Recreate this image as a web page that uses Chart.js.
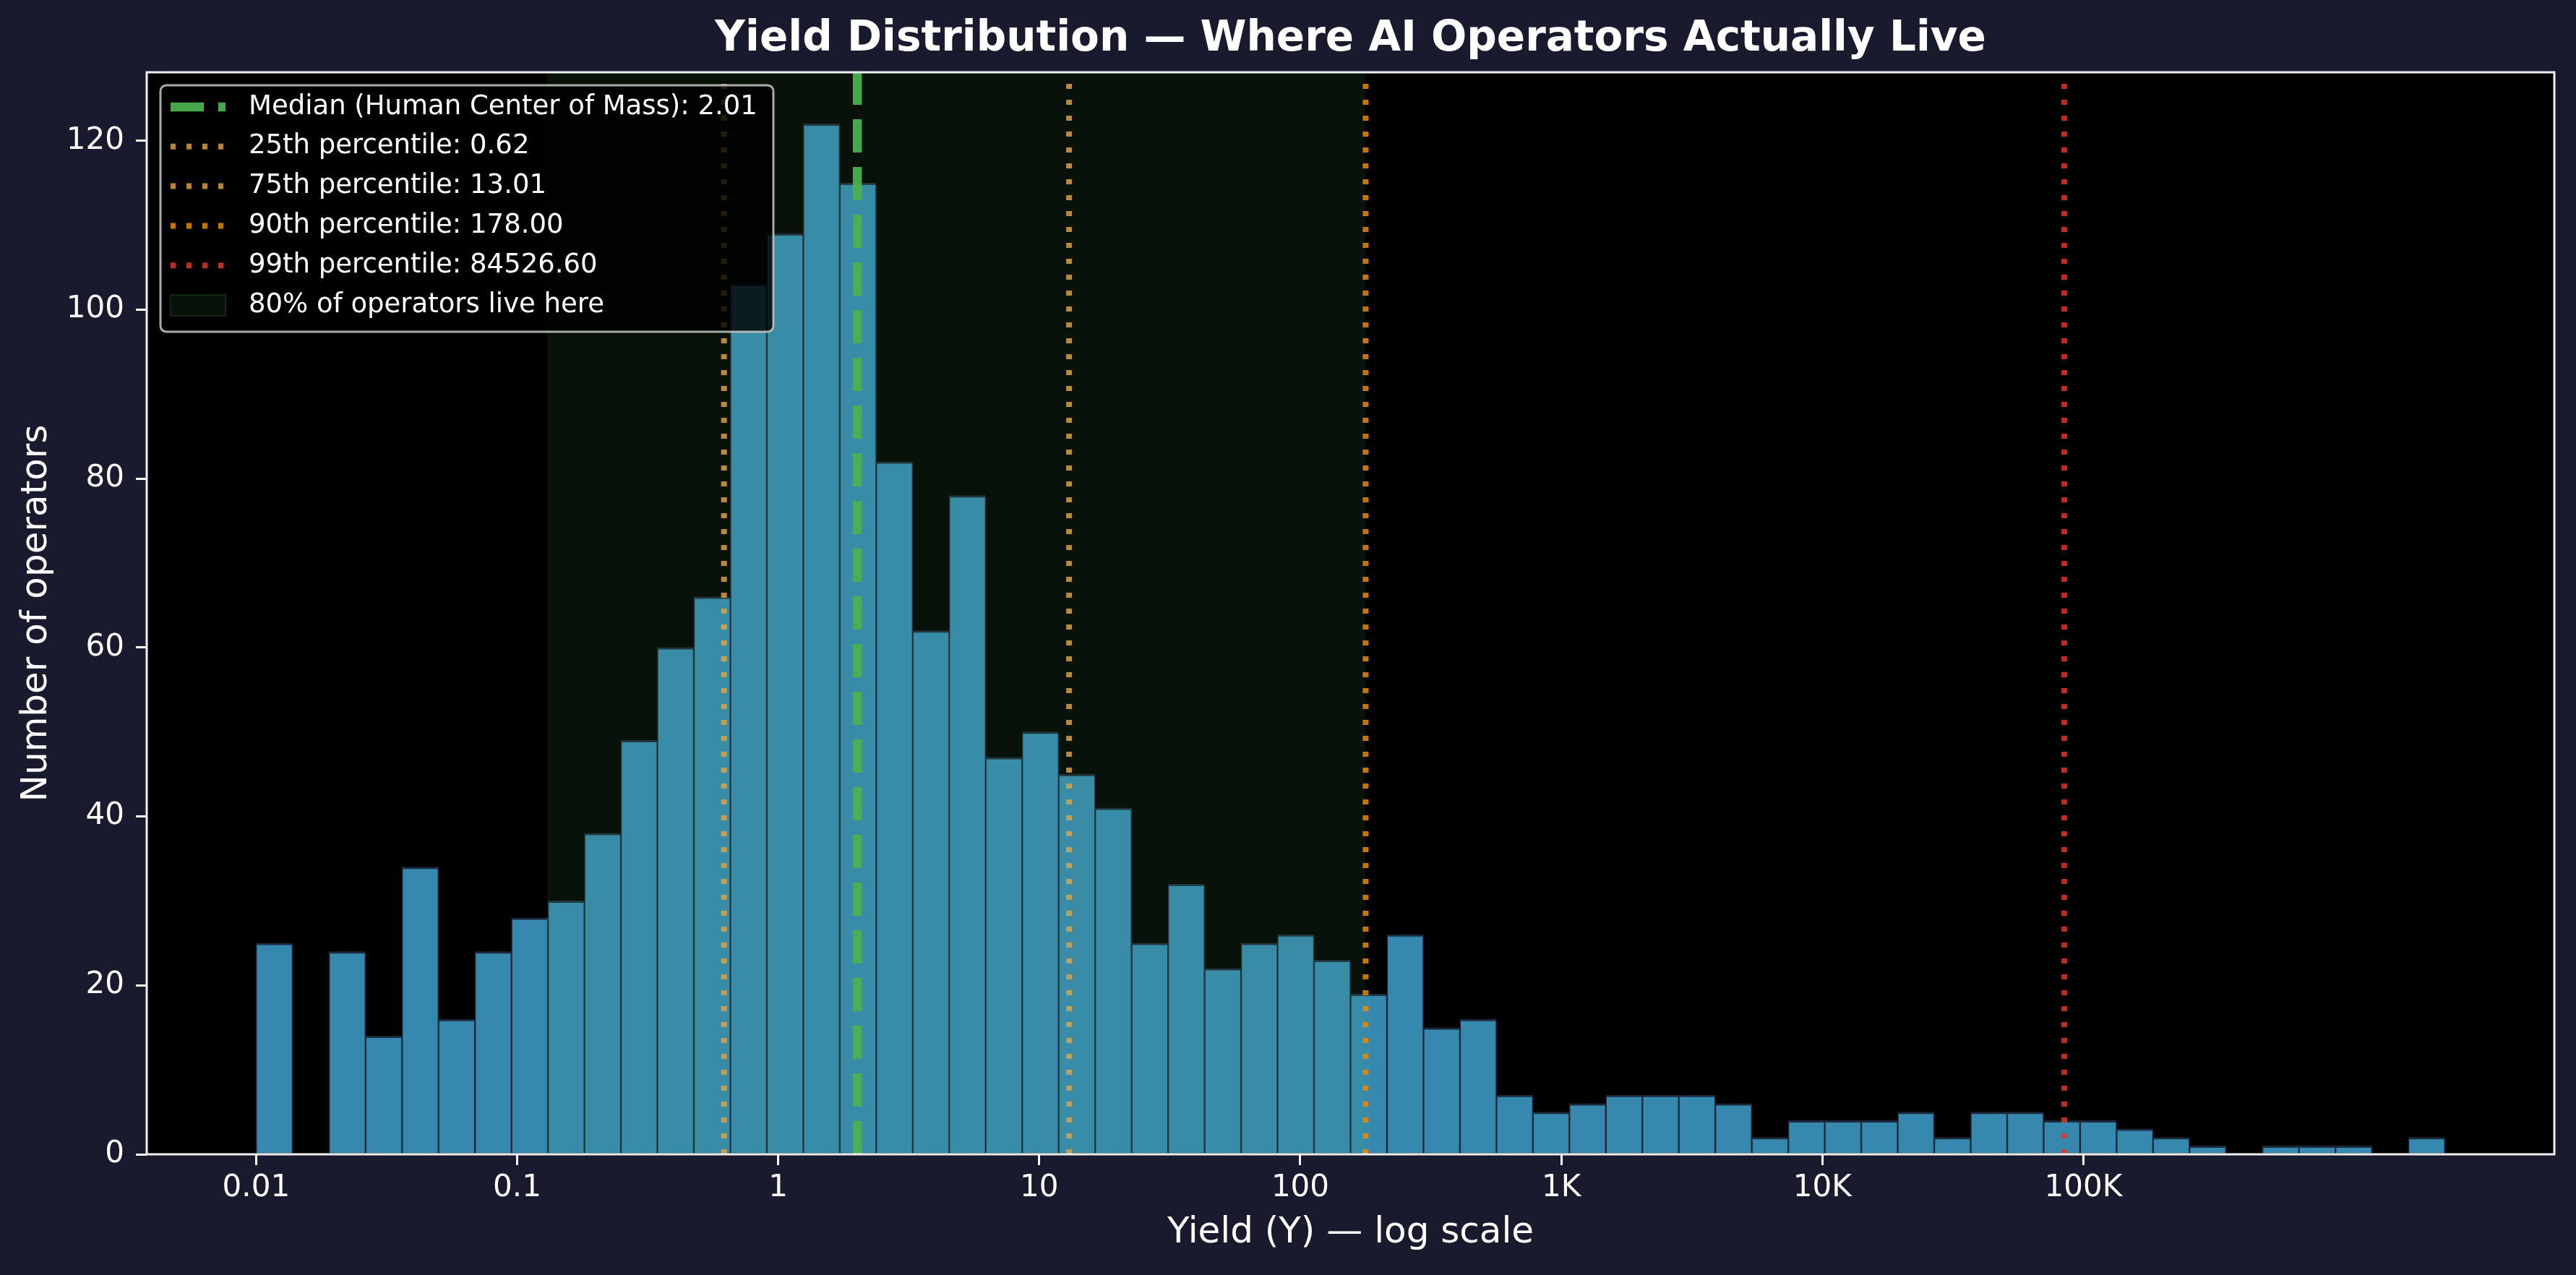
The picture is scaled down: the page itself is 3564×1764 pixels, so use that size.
<!DOCTYPE html>
<html>
<head>
<meta charset="utf-8">
<title>Yield Distribution</title>
<script src="https://cdn.jsdelivr.net/npm/chart.js@4.4.1/dist/chart.umd.min.js"></script>
<style>
  html, body { margin: 0; padding: 0; background: #1a1a2e; }
  canvas { display: block; }
</style>
</head>
<body>
<canvas id="yieldChart" width="3564" height="1764"></canvas>
<script>
// Histogram counts: 60 log-spaced bins, from 0.01 up to ~2.4M
const counts = [
  25, 0, 24, 14, 34, 16, 24, 28, 30, 38,
  49, 60, 66, 103, 109, 122, 115, 82, 62, 78,
  47, 50, 45, 41, 25, 32, 22, 25, 26, 23,
  19, 26, 15, 16, 7, 5, 6, 7, 7, 7,
  6, 2, 4, 4, 4, 5, 2, 5, 5, 4,
  4, 3, 2, 1, 0, 1, 1, 1, 0, 2
];
const binLogMin = -2;      // first bin edge = 0.01
const binLogMax = 6.385;   // last bin edge

// Axes
const xRange = [0.00381, 6.37e6];
const xTickValues = [0.01, 0.1, 1, 10, 100, 1000, 10000, 100000];
const xTickLabels = ["0.01", "0.1", "1", "10", "100", "1K", "10K", "100K"];
const yTickValues = [0, 20, 40, 60, 80, 100, 120];
const yMax = 128.1;

// Percentile markers
const markerNames = ["Median (Human Center of Mass)", "25th percentile", "75th percentile", "90th percentile", "99th percentile"];
const markerValues = [2.01, 0.62, 13.01, 178.00, 84526.60];
const markerColors = ["rgba(76,175,80,0.95)", "rgba(225,162,68,0.82)", "rgba(225,162,68,0.82)", "rgba(232,136,10,0.85)", "rgba(215,55,45,0.85)"];

// 10th-90th percentile band
const bandRange = [0.13, 178.0];
const bandLabel = "80% of operators live here";
const bandColor = "rgba(76,175,80,0.10)";

const FONT = '"DejaVu Sans", sans-serif';
Chart.defaults.font.family = FONT;
Chart.defaults.color = "#ffffff";

const binWidth = (binLogMax - binLogMin) / counts.length;
const bars = counts.map((c, i) => ({ x: Math.pow(10, binLogMin + (i + 0.5) * binWidth), y: c }));

const markerSets = markerValues.map((v, i) => ({
  type: "line",
  label: markerNames[i] + ": " + v.toFixed(2),
  data: [{ x: v, y: 0 }, { x: v, y: yMax }],
  borderColor: markerColors[i],
  borderWidth: i === 0 ? 12.5 : 8,
  borderDash: i === 0 ? [46, 20] : [7, 15],
  pointRadius: 0,
  fill: false,
  order: 1
}));

const bandSet = {
  type: "line",
  label: bandLabel,
  data: [{ x: bandRange[0], y: yMax }, { x: bandRange[1], y: yMax }],
  fill: "origin",
  backgroundColor: bandColor,
  borderColor: "transparent",
  borderWidth: 0,
  pointRadius: 0,
  order: 2
};

const barSet = {
  type: "bar",
  label: "Operators",
  data: bars,
  backgroundColor: "#3788af",
  borderColor: "#1d283a",
  borderWidth: ctx => (ctx.raw && ctx.raw.y > 0) ? { top: 3, left: 1.5, right: 1.5, bottom: 0 } : 0,
  barPercentage: 1,
  categoryPercentage: 1,
  order: 3
};

// background, spines, title and legend
const decor = {
  id: "decor",
  beforeDraw(chart) {
    const { ctx, chartArea: a } = chart;
    ctx.save();
    ctx.fillStyle = "#1a1a2e";
    ctx.fillRect(0, 0, chart.width, chart.height);
    ctx.fillStyle = "#000000";
    ctx.fillRect(a.left, a.top, a.width, a.height);
    ctx.restore();
  },
  afterDatasetsDraw(chart) {
    const { ctx, chartArea: a } = chart;
    ctx.save();
    ctx.strokeStyle = "#f0f0f0";
    ctx.lineWidth = 3;
    ctx.strokeRect(a.left, a.top, a.width, a.height);
    ctx.restore();
  },
  afterDraw(chart) {
    const { ctx, chartArea: a } = chart;
    ctx.save();
    // title
    ctx.fillStyle = "#ffffff";
    ctx.font = "bold 58px " + FONT;
    ctx.textAlign = "center";
    ctx.textBaseline = "middle";
    ctx.fillText("Yield Distribution \u2014 Where AI Operators Actually Live", (a.left + a.right) / 2, 55);

    // legend
    const lx = a.left + 19, ly = a.top + 18, lw = 848, lh = 341;
    ctx.beginPath();
    ctx.roundRect(lx, ly, lw, lh, 8);
    ctx.fillStyle = "rgba(0,0,0,0.8)";
    ctx.fill();
    ctx.lineWidth = 3;
    ctx.strokeStyle = "rgba(190,190,190,0.9)";
    ctx.stroke();

    const hx = lx + 14, hlen = 76, tx = lx + 122;
    ctx.font = "37px " + FONT;
    ctx.textAlign = "left";
    markerSets.forEach((ds, i) => {
      const y = ly + 30 + i * 54.8;
      ctx.beginPath();
      ctx.setLineDash(ds.borderDash);
      ctx.lineWidth = ds.borderWidth;
      ctx.strokeStyle = ds.borderColor;
      ctx.moveTo(hx, y);
      ctx.lineTo(hx + hlen, y);
      ctx.stroke();
      ctx.setLineDash([]);
      ctx.fillStyle = "#ffffff";
      ctx.fillText(ds.label, tx, y);
    });
    const by = ly + 30 + 5 * 54.8;
    ctx.fillStyle = bandColor;
    ctx.fillRect(hx, by - 14, hlen, 29);
    ctx.strokeStyle = "rgba(76,175,80,0.18)";
    ctx.lineWidth = 2;
    ctx.strokeRect(hx, by - 14, hlen, 29);
    ctx.fillStyle = "#ffffff";
    ctx.fillText(bandLabel, tx, by);
    ctx.restore();
  }
};

new Chart(document.getElementById("yieldChart").getContext("2d"), {
  type: "bar",
  data: { datasets: [barSet, bandSet, ...markerSets] },
  options: {
    responsive: false,
    animation: false,
    devicePixelRatio: 1,
    events: [],
    layout: { padding: { top: 100, right: 30, bottom: 0, left: 0 } },
    plugins: {
      legend: { display: false },
      title: { display: false },
      tooltip: { enabled: false }
    },
    scales: {
      x: {
        type: "logarithmic",
        min: xRange[0],
        max: xRange[1],
        offset: false,
        afterBuildTicks: s => { s.ticks = xTickValues.map(v => ({ value: v })); },
        afterFit: s => { s.height = 167; },
        ticks: {
          callback: (v, i) => xTickLabels[i],
          color: "#ffffff",
          font: { size: 42 },
          padding: 7,
          maxRotation: 0,
          autoSkip: false
        },
        grid: { offset: false, drawOnChartArea: false, drawTicks: true, tickLength: 15, color: "#ffffff", lineWidth: 3 },
        border: { display: false },
        title: {
          display: true,
          text: "Yield (Y) \u2014 log scale",
          color: "#ffffff",
          font: { size: 50 },
          padding: { top: 0, bottom: 28 }
        }
      },
      y: {
        type: "linear",
        min: 0,
        max: yMax,
        afterBuildTicks: s => { s.ticks = yTickValues.map(v => ({ value: v })); },
        afterFit: s => { s.width = 203; },
        ticks: { color: "#ffffff", font: { size: 42 }, padding: 16 },
        grid: { drawOnChartArea: false, drawTicks: true, tickLength: 15, color: "#ffffff", lineWidth: 3 },
        border: { display: false },
        title: {
          display: true,
          text: "Number of operators",
          color: "#ffffff",
          font: { size: 50 },
          padding: { top: 21, bottom: 0 }
        }
      }
    }
  },
  plugins: [decor]
});
</script>
</body>
</html>
